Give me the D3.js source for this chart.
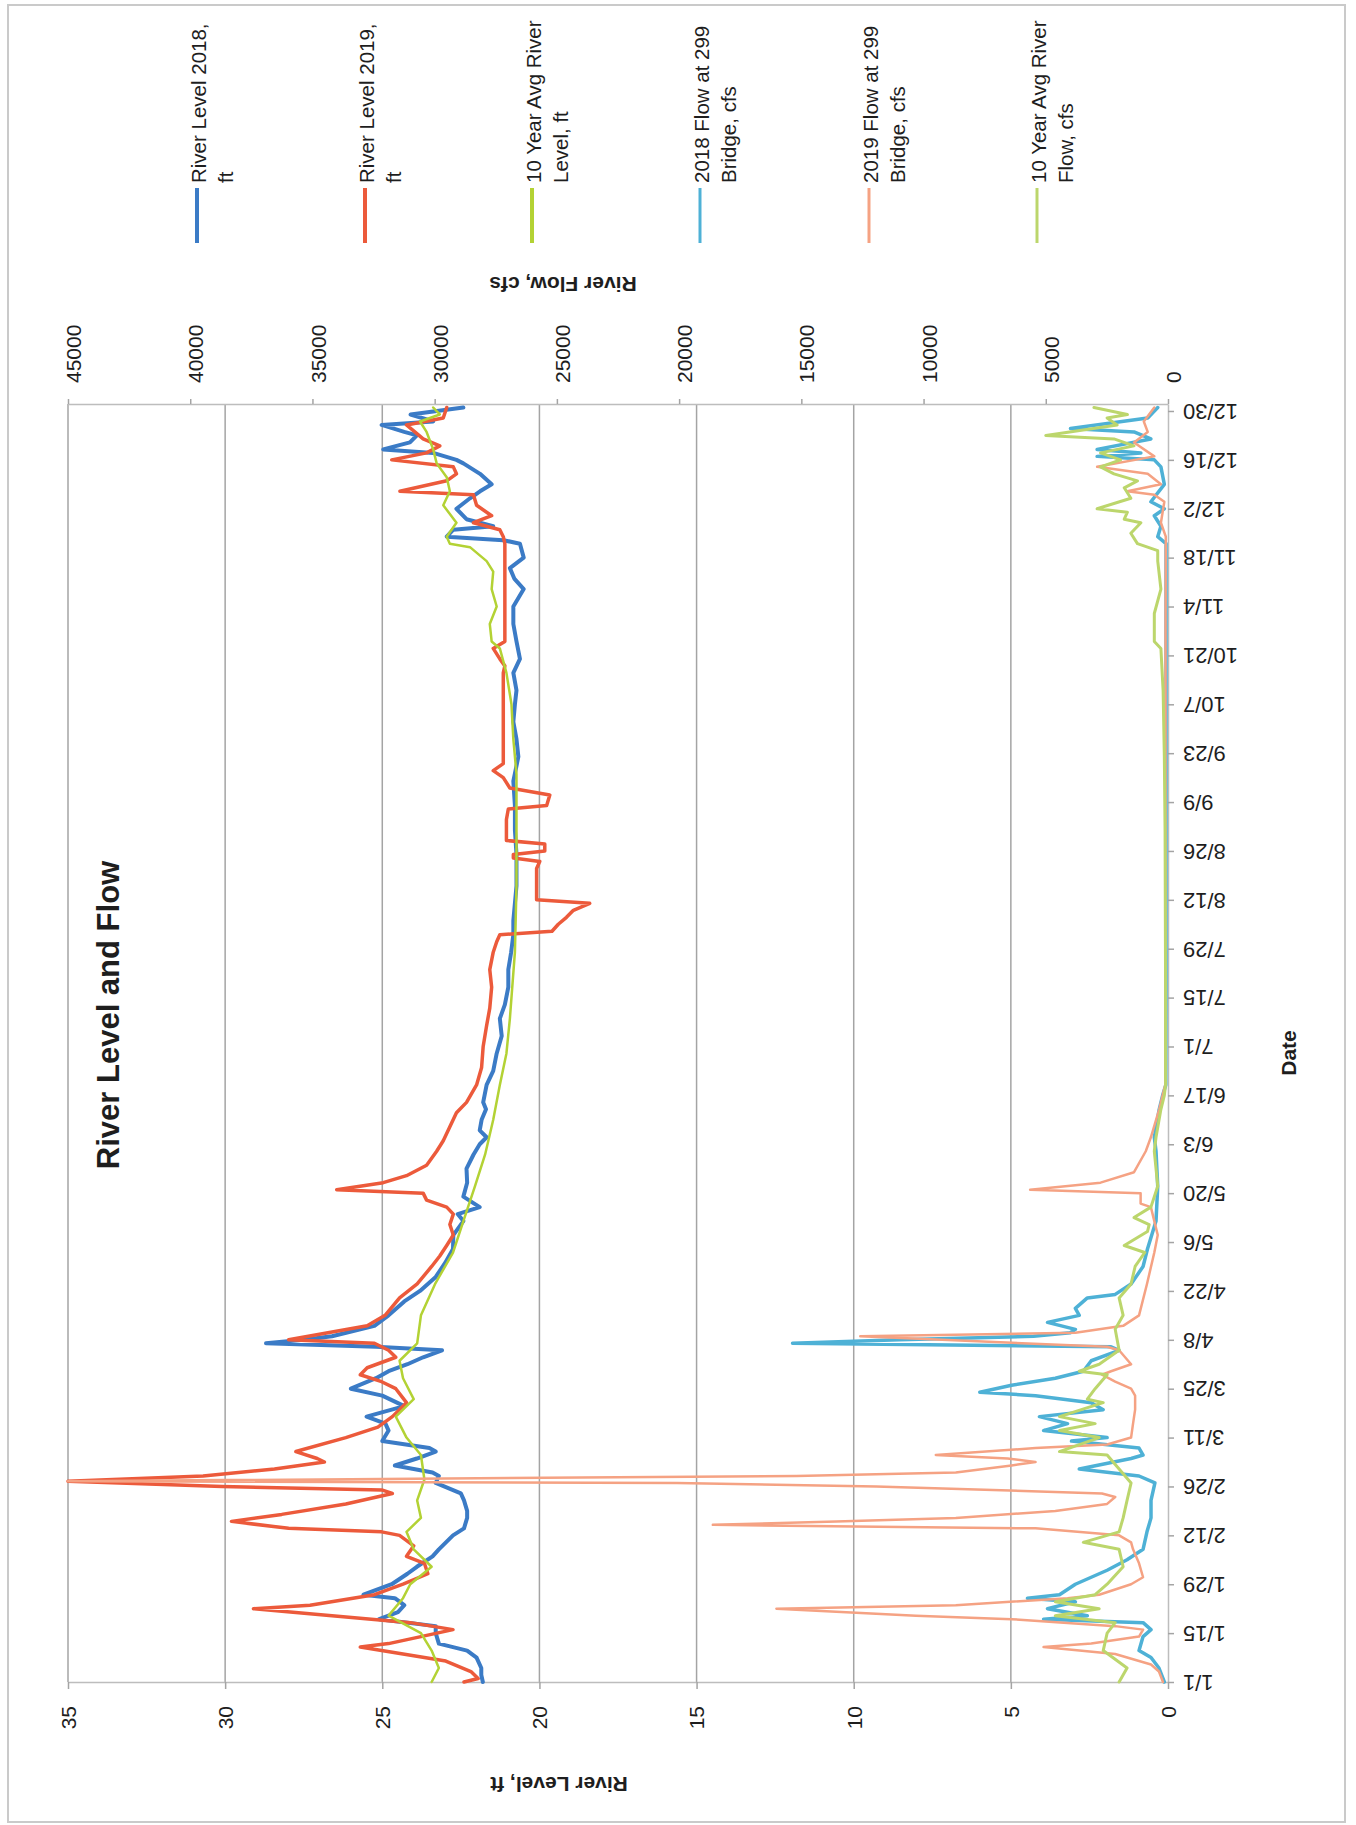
<!DOCTYPE html>
<html>
<head>
<meta charset="utf-8">
<script src="https://cdn.jsdelivr.net/npm/d3@7"></script>
<style>
  body { margin: 0; background: #fff; }
  svg { display: block; }
  text { font-family: "Liberation Sans", Arial, sans-serif; fill: #1e1e1e; }
</style>
</head>
<body>
<svg id="chart" width="1356" height="1825"></svg>
<script>
// tick labels
const dateLabels = ['1/1', '1/15', '1/29', '2/12', '2/26', '3/11', '3/25', '4/8', '4/22', '5/6', '5/20', '6/3', '6/17',
	'7/1', '7/15', '7/29', '8/12', '8/26', '9/9', '9/23', '10/7', '10/21', '11/4', '11/18', '12/2', '12/16', '12/30'];
const levelTicks = [0, 5, 10, 15, 20, 25, 30, 35];
const flowTicks = [0, 5000, 10000, 15000, 20000, 25000, 30000, 35000, 40000, 45000];

// series: [day of year (0 = 1/1), value]
const level2018 = [[0,21.8],[2,21.85],[4,21.85],[7,22.0],[9,22.3],[11,23.2],[14,23.3],[16,23.3],[18,25.1],[20,24.5],[22,24.3],
	[24,24.6],[25,25.6],[28,24.7],[31,24.2],[33,23.9],[36,23.4],[38,23.2],[42,22.75],[44,22.4],[47,22.3],[49,22.3],[52,22.4],
	[54,22.5],[57,23.3],[59,23.2],[60,23.4],[62,24.6],[64,23.9],[66,23.3],[67,23.5],[69,25.0],[72,24.8],[74,24.9],[76,25.5],
	[79,24.3],[82,25.0],[84,26.0],[87,25.2],[89,24.8],[91,24.2],[93,23.7],[95,23.1],[96,25.2],[97,28.7],[98,27.5],[99,26.6],
	[102,25.25],[105,24.8],[109,24.3],[112,23.8],[116,23.3],[120,23.0],[124,22.75],[128,22.74],[132,22.42],[134,22.6],[136,21.9],
	[139,22.42],[143,22.3],[147,22.32],[151,22.1],[154,21.9],[156,21.68],[158,21.9],[161,21.84],[164,21.7],[166,21.79],[171,21.68],
	[175,21.47],[180,21.36],[185,21.2],[190,21.26],[194,21.1],[199,20.99],[204,20.99],[209,20.9],[214,20.83],[218,20.83],[228,20.73],
	[237,20.73],[244,20.78],[251,20.78],[258,20.83],[265,20.67],[270,20.73],[275,20.83],[280,20.78],[284,20.73],[289,20.83],
	[293,20.62],[298,20.73],[303,20.83],[308,20.83],[313,20.5],[316,20.8],[319,20.94],[322,20.5],[326,20.62],[327,21.15],[328,22.95],
	[330,22.74],[331,21.47],[333,22.32],[336,22.64],[339,22.21],[341,21.89],[343,21.52],[346,21.89],[349,22.42],[350,22.64],
	[352,23.38],[353,24.97],[355,24.12],[357,23.9],[358,24.3],[360,25.02],[361,23.38],[363,24.1],[365,22.42]];

const level2019 = [[0,22.4],[1,21.95],[3,22.18],[6,22.98],[8,24.34],[10,25.7],[11,24.8],[13,23.77],[15,22.75],[17,24.1],[19,26.6],
	[21,29.1],[22,27.3],[25,25.25],[28,24.34],[31,23.55],[34,23.66],[36,24.23],[39,24.0],[42,24.45],[43,25.02],[44,27.98],[46,29.8],
	[48,28.2],[51,26.16],[54,24.68],[55,25.02],[56,30.1],[57.5,35],[59,30.7],[61,28.43],[63,26.84],[64,27.07],[66,27.75],[70,26.16],
	[73,25.14],[76,24.68],[80,24.23],[84,24.57],[86,25.02],[88,25.7],[90,25.48],[93,24.57],[95,24.8],[97,25.25],[98,27.98],[100,26.73],
	[102,25.48],[105,24.91],[110,24.45],[114,23.89],[119,23.43],[122,23.17],[125,22.95],[128,22.74],[131,22.85],[134,22.74],
	[136,22.95],[138,23.59],[140,23.7],[141,26.45],[143,24.97],[145,24.23],[148,23.59],[152,23.27],[155,23.06],[159,22.85],
	[163,22.64],[166,22.32],[171,22.0],[176,21.84],[182,21.79],[188,21.68],[193,21.58],[199,21.52],[204,21.58],[209,21.47],
	[212,21.36],[214,21.26],[215,19.6],[217,19.4],[219,19.14],[221,18.92],[223,18.4],[224,20.09],[233,20.09],[235,19.99],[236,20.83],
	[237,20.83],[238,19.83],[240,19.83],[241,21.05],[247,21.05],[250,20.99],[251,19.77],[254,19.67],[256,20.94],[259,21.15],
	[261,21.47],[263,21.15],[275,21.15],[289,21.15],[291,21.1],[293,21.26],[296,21.47],[298,21.1],[313,21.1],[326,21.1],[328,21.15],
	[330,21.26],[332,22.1],[334,21.52],[337,22.0],[340,22.1],[341,24.44],[344,22.95],[346,22.64],[348,22.74],[350,24.7],[352,23.59],
	[354,23.17],[356,23.7],[360,24.23],[362,23.06],[365,22.95]];

const levelAvg = [[0,23.43],[4,23.2],[9,23.43],[14,23.77],[19,24.8],[24,24.34],[28,24.11],[33,23.43],[38,24.0],[43,24.23],
	[47,23.77],[52,23.89],[58,23.66],[65,23.77],[70,24.23],[76,24.57],[81,24.0],[87,24.34],[92,24.45],[97,23.89],[105,23.77],
	[114,23.32],[123,22.75],[132,22.42],[142,22.05],[151,21.73],[161,21.47],[171,21.26],[180,21.05],[190,20.94],[209,20.78],
	[228,20.73],[247,20.73],[260,20.73],[270,20.83],[280,20.89],[289,21.05],[296,21.26],[298,21.52],[303,21.58],[308,21.36],
	[313,21.52],[318,21.47],[321,21.68],[325,22.21],[326,22.85],[328,22.95],[332,22.64],[337,23.06],[341,22.85],[345,22.95],
	[349,23.27],[353,23.38],[358,23.59],[361,23.8],[363,23.17],[365,23.38]];

const flow2018 = [[0,150],[4,370],[7,695],[9,1185],[13,1020],[15,695],[17,1020],[18,5090],[19,3300],[21,4930],[23,3790],
	[24,5750],[25,4440],[28,3790],[32,2490],[35,1675],[38,1020],[43,860],[47,695],[52,695],[57,535],[59,1185],[61,3630],[64,1510],
	[65,1020],[67,1185],[69,3950],[70,2490],[72,5090],[74,4110],[76,5260],[78,2650],[80,3140],[82,5420],[83,7700],[85,6400],
	[87,4610],[89,3465],[92,3140],[95,2000],[96,2330],[97,15360],[98,11000],[99,5500],[100,4000],[101,3790],[103,4930],[105,3630],
	[107,3790],[110,3300],[111,2160],[114,1510],[119,1020],[124,840],[132,490],[142,420],[152,490],[156,560],[164,360],[168,220],
	[171,90],[200,80],[247,80],[300,80],[326,80],[328,420],[331,290],[334,560],[336,150],[338,700],[343,150],[348,290],[350,560],
	[351,2900],[352,1110],[353,2900],[356,700],[358,1390],[359,3990],[362,830],[365,420]];

const flow2019 = [[0,205],[3,370],[5,695],[8,2160],[10,5090],[11,3140],[13,1185],[15,1020],[16,2160],[18,6400],[19,10310],
	[21,16020],[22,8680],[24,4110],[25,2815],[28,1510],[30,1020],[34,1185],[38,1430],[40,1510],[42,2000],[44,5420],[45,18620],
	[46,13570],[47,8680],[49,4610],[51,2490],[53,2160],[54,2700],[56,11940],[57,20090],[57.5,45000],[59,15200],[60,8680],[62,6400],
	[63,5420],[64,6560],[65,9500],[67,5420],[68,2490],[70,1510],[74,1430],[78,1345],[82,1345],[84,1510],[86,2160],[88,2700],
	[89,2330],[91,1510],[95,2000],[96,2490],[99,12590],[100,3790],[102,1835],[105,1185],[114,860],[123,560],[128,420],[132,560],
	[136,700],[137,1120],[140,1120],[141,5640],[143,2760],[146,1390],[152,910],[156,700],[164,360],[168,220],[171,110],[200,100],
	[250,100],[300,100],[328,90],[332,290],[338,150],[340,560],[341,1660],[343,290],[346,830],[348,2900],[351,560],[355,1390],
	[358,830],[361,990],[365,560]];

const flowAvg = [[0,2000],[4,1675],[9,2650],[14,2490],[17,2160],[19,4610],[21,2815],[23,4610],[25,2980],[28,2490],[33,1835],
	[38,2000],[40,3465],[43,2000],[47,1835],[52,1675],[57,1510],[61,2000],[65,2490],[66,4440],[70,2815],[72,4440],[74,2980],
	[76,4440],[80,2650],[81,3300],[84,2980],[88,2490],[89,3630],[91,2815],[95,2000],[101,2160],[105,1835],[110,2000],[114,1510],
	[119,1345],[123,950],[125,1790],[129,840],[131,770],[133,1390],[136,700],[142,420],[152,560],[156,490],[164,290],[168,150],
	[171,100],[200,100],[244,120],[265,150],[284,200],[296,290],[298,560],[306,560],[313,290],[321,420],[324,420],[326,1250],
	[329,1520],[332,1110],[333,1790],[335,1660],[336,2900],[339,1520],[342,1790],[344,1250],[346,2210],[348,2760],[350,1940],
	[352,2760],[354,1390],[356,2210],[357,5000],[360,2080],[362,2490],[363,1660],[365,3030]];

const series = [
	{ name: ['River Level 2018,', 'ft'], data: level2018, axis: 'level', color: '#3b7bc6', width: 4 },
	{ name: ['River Level 2019,', 'ft'], data: level2019, axis: 'level', color: '#ec5a3b', width: 3.5 },
	{ name: ['10 Year Avg River', 'Level, ft'], data: levelAvg, axis: 'level', color: '#b3d234', width: 2.5 },
	{ name: ['2018 Flow at 299', 'Bridge, cfs'], data: flow2018, axis: 'flow', color: '#4eb1d6', width: 3.5 },
	{ name: ['2019 Flow at 299', 'Bridge, cfs'], data: flow2019, axis: 'flow', color: '#f5a283', width: 2.5 },
	{ name: ['10 Year Avg River', 'Flow, cfs'], data: flowAvg, axis: 'flow', color: '#bcd66c', width: 3 }
];

// the sheet is printed rotated: dates run bottom -> top, values run right -> left
const svg = d3.select('#chart');
const t0 = Date.UTC(2020, 0, 1);
const toDate = (d) => new Date(t0 + d * 864e5);
const parseDate = d3.utcParse('%m/%d/%Y');

let y = d3.scaleUtc().domain([toDate(0), toDate(366)]).range([1682, 404]);
let xLevel = d3.scaleLinear().domain([0, 35]).range([1168, 68]);
let xFlow = d3.scaleLinear().domain([0, 45000]).range([1168, 68]);

// page frame
svg.append('rect')
	.attr('x', 8).attr('y', 5).attr('width', 1337).attr('height', 1817)
	.attr('fill', 'none').attr('stroke', '#cacaca').attr('stroke-width', 2);

// gridlines
svg.append('g')
	.selectAll('line')
	.data(levelTicks.filter((v) => v > 0))
	.join('line')
	.attr('x1', (d) => xLevel(d)).attr('x2', (d) => xLevel(d))
	.attr('y1', 404).attr('y2', 1682)
	.attr('stroke', '#a4a4a4').attr('stroke-width', 1.5);

// level axis (bottom of page)
let gLevel = svg.append('g')
	.attr('transform', 'translate(0,1682)')
	.call(d3.axisBottom(xLevel).tickValues(levelTicks).tickSize(7).tickSizeOuter(0));
gLevel.selectAll('.tick text')
	.attr('transform', 'rotate(-90)')
	.attr('x', -24).attr('y', 0).attr('dy', '0.35em')
	.attr('text-anchor', 'end')
	.style('font-size', '21px');

// flow axis (top of page)
let gFlow = svg.append('g')
	.attr('transform', 'translate(0,404)')
	.call(d3.axisTop(xFlow).tickValues(flowTicks).tickFormat(d3.format('d')).tickSize(5).tickSizeOuter(0));
gFlow.selectAll('.tick text')
	.attr('transform', 'rotate(-90)')
	.attr('x', 21).attr('y', 0).attr('dy', '0.6em')
	.attr('text-anchor', 'start')
	.style('font-size', '21px');

// date axis (right of plot)
let gDate = svg.append('g')
	.attr('transform', 'translate(1168,0)')
	.call(d3.axisRight(y)
		.tickValues(dateLabels.map((s) => parseDate(s + '/2020')))
		.tickFormat((d, i) => dateLabels[i])
		.tickSize(6).tickSizeOuter(0));
gDate.selectAll('.tick text')
	.attr('transform', 'rotate(180)')
	.attr('x', -15).attr('y', 0).attr('dy', '0.35em')
	.attr('text-anchor', 'end')
	.style('font-size', '22px');

[gLevel, gFlow, gDate].forEach((g) => {
	g.select('.domain').attr('stroke', '#bdbdbd').attr('stroke-width', 1.5);
	g.selectAll('.tick line').attr('stroke', '#a4a4a4').attr('stroke-width', 1.5);
	g.selectAll('.tick text').attr('fill', '#1e1e1e').style('font-family', '"Liberation Sans", Arial, sans-serif');
});

// series lines
series.forEach((s) => {
	let x = s.axis === 'level' ? xLevel : xFlow;
	let line = d3.line()
		.x((d) => x(d[1]))
		.y((d) => y(toDate(d[0])));
	svg.append('path')
		.datum(s.data)
		.attr('fill', 'none')
		.attr('stroke', s.color)
		.attr('stroke-width', s.width)
		.attr('stroke-linejoin', 'round')
		.attr('stroke-linecap', 'round')
		.attr('d', line);
});

// titles
svg.append('text')
	.attr('transform', 'translate(108,1015) rotate(-90)')
	.attr('text-anchor', 'middle').attr('dy', '0.35em')
	.style('font-size', '31px').style('font-weight', 'bold')
	.text('River Level and Flow');

svg.append('text')
	.attr('transform', 'translate(559,1784) rotate(180)')
	.attr('text-anchor', 'middle').attr('dy', '0.35em')
	.style('font-size', '21px').style('font-weight', 'bold')
	.text('River Level, ft');

svg.append('text')
	.attr('transform', 'translate(563,284) rotate(180)')
	.attr('text-anchor', 'middle').attr('dy', '0.35em')
	.style('font-size', '21px').style('font-weight', 'bold')
	.text('River Flow, cfs');

svg.append('text')
	.attr('transform', 'translate(1289,1053) rotate(-90)')
	.attr('text-anchor', 'middle').attr('dy', '0.35em')
	.style('font-size', '21px').style('font-weight', 'bold')
	.text('Date');

// legend
const legendX = [197, 365, 532, 700, 869, 1037];
let legend = svg.append('g')
	.selectAll('g')
	.data(series)
	.join('g')
	.attr('transform', (d, i) => 'translate(' + legendX[i] + ',0)');

legend.append('line')
	.attr('x1', 0).attr('x2', 0).attr('y1', 188).attr('y2', 243)
	.attr('stroke', (d) => d.color)
	.attr('stroke-width', (d) => (d.axis === 'level' ? 4 : 3));

legend.each(function (d) {
	d3.select(this).selectAll('text')
		.data(d.name)
		.join('text')
		.attr('transform', (t, j) => 'translate(' + (9 + j * 27) + ',183) rotate(-90)')
		.attr('text-anchor', 'start')
		.style('font-size', '20.5px')
		.text((t) => t);
});
</script>
</body>
</html>
